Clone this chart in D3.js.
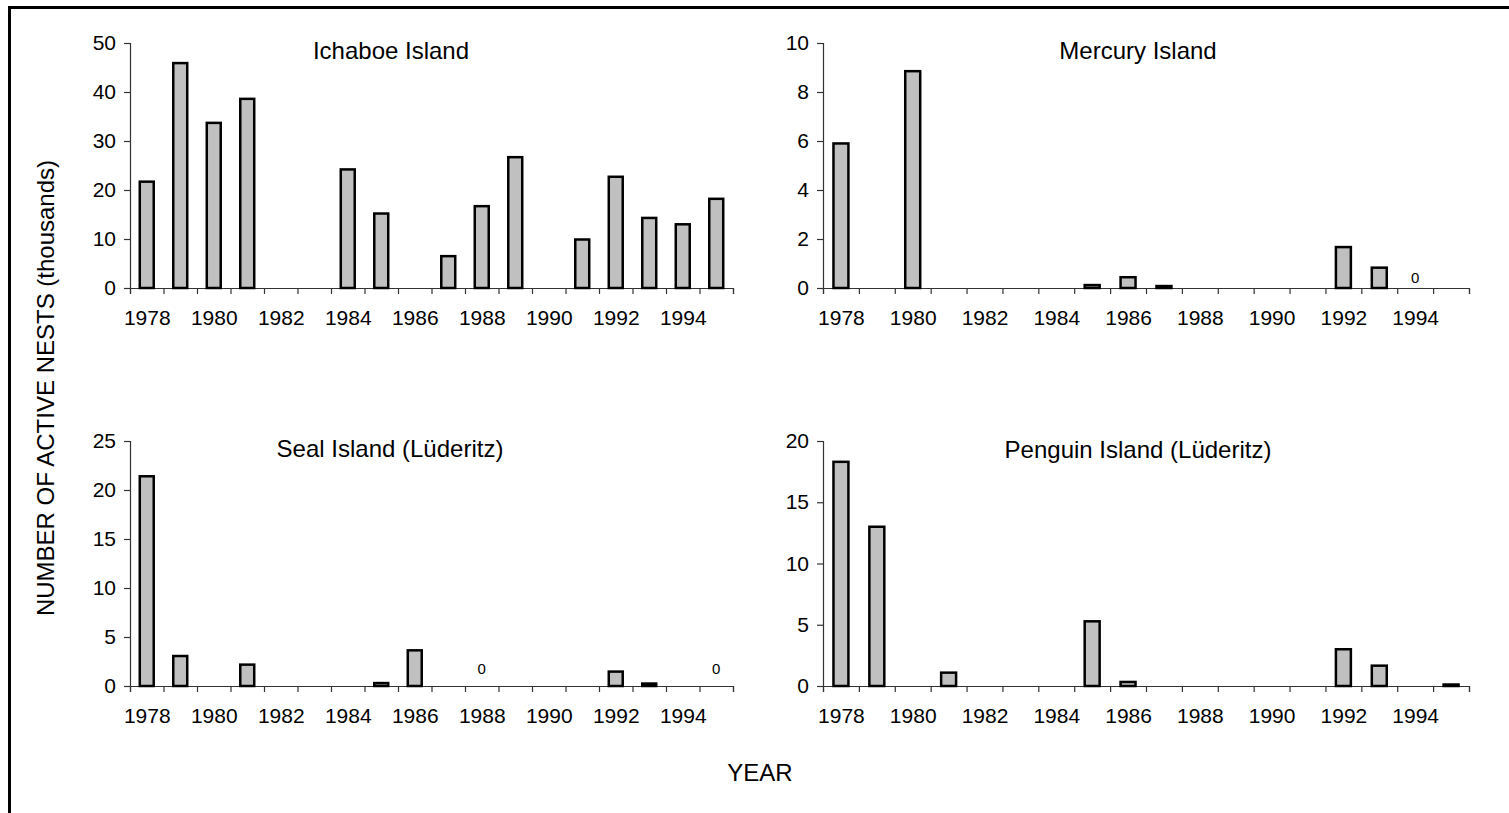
<!DOCTYPE html>
<html><head><meta charset="utf-8">
<script src="https://cdn.jsdelivr.net/npm/d3@7"></script>
<style>
body{margin:0;background:#fff}
svg{display:block}
text{font-family:"Liberation Sans",Arial,Helvetica,sans-serif;fill:#000}
</style>
</head><body>
<svg id="chart" width="1509" height="813"></svg>
<script>
// ---- data (thousands of active nests) ----
const years = [1978,1979,1980,1981,1982,1983,1984,1985,1986,1987,1988,1989,1990,1991,1992,1993,1994,1995];
const yearLabels = [1978,1980,1982,1984,1986,1988,1990,1992,1994];
// null = no bar; 0 = counted zero (shown as "0")
const ichaboe = [21.7,45.9,33.7,38.6,null,null,24.2,15.2,null,6.5,16.7,26.7,null,9.9,22.7,14.3,13.0,18.2];
const mercury = [5.9,null,8.85,null,null,null,null,0.12,0.44,0.08,null,null,null,null,1.67,0.83,0,null];
const seal    = [21.4,3.06,null,2.18,null,null,null,0.3,3.64,null,0,null,null,null,1.47,0.25,null,0];
const penguin = [18.3,13.0,null,1.09,null,null,null,5.28,0.33,null,null,null,null,null,3.0,1.66,null,0.12];
const titles = ["Ichaboe Island","Mercury Island","Seal Island (Lüderitz)","Penguin Island (Lüderitz)"];
const yMax = [50,10,25,20];
const yStep = [10,2,5,5];
const yAxisTitle = "NUMBER OF ACTIVE NESTS (thousands)";
const xAxisTitle = "YEAR";

// ---- layout ----
const panels = [
  {data:ichaboe, x0:130, x1:733, yb:288, yt:43, tx:391, ty:59, zdy:14},
  {data:mercury, x0:823, x1:1469, yb:288, yt:43, tx:1138, ty:59, zdy:11},
  {data:seal,    x0:130, x1:733, yb:686, yt:441, tx:390, ty:457, zdy:17.5},
  {data:penguin, x0:823, x1:1469, yb:686, yt:441, tx:1138, ty:458, zdy:14}
];

const svg = d3.select("#chart");
svg.append("rect").attr("width",1509).attr("height",813).attr("fill","#fff");

// frame (top and left edges)
svg.append("path").attr("d","M9.5,813 L9.5,7.5 L1509,7.5")
  .attr("fill","none").attr("stroke","#000").attr("stroke-width",3);

const axisColor = "#333";

panels.forEach((p,i)=>{
  const g = svg.append("g");
  const x = d3.scaleLinear().domain([years[0]-0.5, years[years.length-1]+0.5]).range([p.x0,p.x1]);
  const y = d3.scaleLinear().domain([0,yMax[i]]).range([p.yb,p.yt]);
  const band = x(years[0]+1)-x(years[0]);
  const bw = band/2.4;

  // y axis
  const yTicks = d3.range(0, yMax[i]+yStep[i]/2, yStep[i]);
  const ya = g.append("g").attr("transform",`translate(${p.x0},0)`)
    .call(d3.axisLeft(y).tickValues(yTicks).tickSize(6).tickPadding(8).tickFormat(d3.format("d")));
  ya.select(".domain").attr("stroke",axisColor).attr("stroke-width",1.2);
  ya.selectAll(".tick line").attr("stroke",axisColor).attr("stroke-width",1.2);
  ya.selectAll(".tick text").attr("font-size",21).attr("font-family",null).attr("fill","#000");

  // x axis: ticks at category boundaries
  const bounds = years.map(d=>d-0.5).concat([years[years.length-1]+0.5]);
  const xa = g.append("g").attr("transform",`translate(0,${p.yb})`)
    .call(d3.axisBottom(x).tickValues(bounds).tickSize(6).tickFormat(""));
  xa.select(".domain").attr("stroke",axisColor).attr("stroke-width",1.2);
  xa.selectAll(".tick line").attr("stroke",axisColor).attr("stroke-width",1.2);
  // labels centered on categories
  const xl = g.append("g").attr("transform",`translate(0,${p.yb})`)
    .call(d3.axisBottom(x).tickValues(yearLabels).tickSize(0).tickPadding(22).tickFormat(d3.format("d")));
  xl.select(".domain").remove();
  xl.selectAll(".tick text").attr("font-size",21).attr("font-family",null).attr("fill","#000");

  // bars
  const rows = years.map((yr,k)=>({yr, v:p.data[k]}));
  g.selectAll("rect.bar").data(rows.filter(d=>d.v!==null && d.v>0)).join("rect")
    .attr("class","bar")
    .attr("x",d=>x(d.yr)-bw/2).attr("width",bw)
    .attr("y",d=>y(d.v)).attr("height",d=>y(0)-y(d.v))
    .attr("fill","#c0c0c0").attr("stroke","#000").attr("stroke-width",2.5);

  // zero labels
  g.selectAll("text.zero").data(rows.filter(d=>d.v===0)).join("text")
    .attr("class","zero")
    .attr("x",d=>x(d.yr)).attr("y",p.yb-p.zdy)
    .attr("text-anchor","middle").attr("dominant-baseline","central")
    .attr("font-size",15).text("0");

  // title
  g.append("text").attr("x",p.tx).attr("y",p.ty).attr("text-anchor","middle")
    .attr("font-size",24).text(titles[i]);
});

// axis titles
svg.append("text").attr("transform","translate(54,388) rotate(-90)")
  .attr("text-anchor","middle").attr("font-size",24).text(yAxisTitle);
svg.append("text").attr("x",760).attr("y",781).attr("text-anchor","middle")
  .attr("font-size",24).text(xAxisTitle);
</script>
</body></html>
